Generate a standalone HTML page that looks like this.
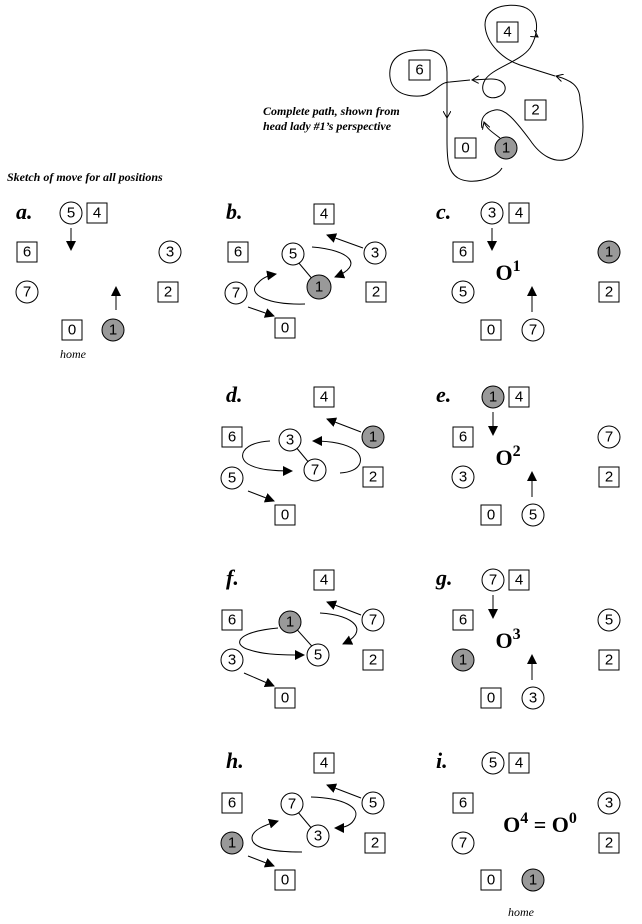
<!DOCTYPE html>
<html><head><meta charset="utf-8"><style>
html,body{margin:0;padding:0;background:#fff}
svg{display:block}
.b{fill:#fff;stroke:#000;stroke-width:1}
.c{fill:#fff;stroke:#000;stroke-width:1}
.g{fill:#999;stroke:#000;stroke-width:1}
.t{font-family:"Liberation Sans",sans-serif;font-size:15px;text-anchor:middle;dominant-baseline:central}
.L{font-family:"Liberation Serif",serif;font-style:italic;font-weight:bold;font-size:22px}
.O{font-family:"Liberation Serif",serif;font-weight:bold;font-size:22px;text-anchor:middle}
.cap{font-family:"Liberation Serif",serif;font-style:italic;font-weight:bold;font-size:12px}
.ln{fill:none;stroke:#000;stroke-width:1}
</style></head><body>
<svg width="642" height="924" viewBox="0 0 642 924" xmlns="http://www.w3.org/2000/svg">
<defs>
<marker id="ar" markerWidth="10" markerHeight="10" refX="9" refY="5" orient="auto" markerUnits="userSpaceOnUse">
<path d="M0,0 L10,5 L0,10 z" fill="#000"/></marker>
<marker id="op" markerWidth="8" markerHeight="8" refX="7" refY="4" orient="auto" markerUnits="userSpaceOnUse">
<path d="M0,0 L7,4 L0,8" fill="none" stroke="#000"/></marker>
</defs>

<!-- top complete path -->
<g>
<rect class="b" x="497" y="22" width="21" height="20"/><text class="t" x="507.5" y="32">4</text>
<rect class="b" x="409" y="60" width="21" height="20"/><text class="t" x="419.5" y="70">6</text>
<rect class="b" x="525" y="100" width="21" height="20"/><text class="t" x="535.5" y="110">2</text>
<rect class="b" x="455" y="138" width="21" height="20"/><text class="t" x="465.5" y="148">0</text>
<circle class="g" cx="506" cy="148" r="11"/><text class="t" x="506" y="148">1</text>
<path class="ln" d="M502,168 C495,180 470,185 458,178 C448,172 447,160 447,140 L447,118" />
<path class="ln" d="M447,100 L447,118" marker-end="url(#op)"/>
<path class="ln" d="M447,100 L447,72 C447,60 440,50 425,50 C405,50 392,55 390,70 C388,88 400,97 420,96 C435,95 438,82 450,82 L470,80"/>
<path class="ln" d="M490,79 L472,80" marker-end="url(#op)"/>
<path class="ln" d="M490,79 C505,78 510,90 500,96 C488,102 478,92 485,80 C492,68 520,62 530,48 C540,32 540,10 520,6 C500,3 485,10 485,25 C486,45 505,60 520,65 L555,76"/>
<path class="ln" d="M535,35 L538,37" marker-end="url(#op)"/>
<path class="ln" d="M580,100 C580,85 570,80 556,76" marker-end="url(#op)"/>
<path class="ln" d="M580,100 C585,125 585,150 570,158 C555,165 540,155 530,140 C515,120 505,108 495,110 C485,112 480,118 482,128"/>
<path class="ln" d="M500,138 C492,132 486,128 484,122" marker-end="url(#op)"/>
<text class="cap" x="263" y="115">Complete path, shown from</text>
<text class="cap" x="263" y="130">head lady #1’s perspective</text>
<text class="cap" x="7" y="181">Sketch of move for all positions</text>
</g>

<!-- a -->
<text class="L" x="16" y="219">a.</text>
<circle class="c" cx="71" cy="213" r="11"/><text class="t" x="71" y="213">5</text>
<rect class="b" x="87" y="203" width="20" height="20"/><text class="t" x="97" y="213">4</text>
<rect class="b" x="17" y="242" width="20" height="20"/><text class="t" x="27" y="252">6</text>
<circle class="c" cx="170" cy="252" r="11"/><text class="t" x="170" y="252">3</text>
<circle class="c" cx="27" cy="292" r="11"/><text class="t" x="27" y="292">7</text>
<rect class="b" x="158" y="282" width="20" height="20"/><text class="t" x="168" y="292">2</text>
<rect class="b" x="62" y="320" width="20" height="20"/><text class="t" x="72" y="330">0</text>
<circle class="g" cx="113" cy="330" r="11"/><text class="t" x="113" y="330">1</text>
<line class="ln" x1="71" y1="228" x2="71" y2="250" marker-end="url(#ar)"/>
<line class="ln" x1="116" y1="310" x2="116" y2="287" marker-end="url(#ar)"/>
<text class="cap" x="60" y="358" style="font-weight:normal">home</text>

<!-- b -->
<text class="L" x="226" y="219">b.</text>
<rect class="b" x="314" y="204" width="20" height="20"/><text class="t" x="324" y="214">4</text>
<rect class="b" x="228" y="242" width="20" height="20"/><text class="t" x="238" y="252">6</text>
<line class="ln" x1="293" y1="256" x2="319" y2="287"/>
<circle class="c" cx="293" cy="254" r="11"/><text class="t" x="293" y="254">5</text>
<circle class="g" cx="319" cy="287" r="12"/><text class="t" x="319" y="287">1</text>
<circle class="c" cx="375" cy="253" r="11"/><text class="t" x="375" y="253">3</text>
<circle class="c" cx="236" cy="293" r="11"/><text class="t" x="236" y="293">7</text>
<rect class="b" x="366" y="282" width="20" height="20"/><text class="t" x="376" y="292">2</text>
<rect class="b" x="275" y="318" width="20" height="20"/><text class="t" x="285" y="328">0</text>
<line class="ln" x1="363" y1="248" x2="327" y2="235" marker-end="url(#ar)"/>
<path class="ln" d="M312,247 C350,250 365,265 335,277" marker-end="url(#ar)"/>
<path class="ln" d="M305,304 C270,305 245,295 258,283 C263,277 270,275 276,274" marker-end="url(#ar)"/>
<line class="ln" x1="248" y1="307" x2="274" y2="316" marker-end="url(#ar)"/>

<!-- c -->
<text class="L" x="436" y="219">c.</text>
<circle class="c" cx="492" cy="213" r="11"/><text class="t" x="492" y="213">3</text>
<rect class="b" x="509" y="203" width="20" height="20"/><text class="t" x="519" y="213">4</text>
<rect class="b" x="453" y="242" width="20" height="20"/><text class="t" x="463" y="252">6</text>
<circle class="g" cx="609" cy="252" r="11"/><text class="t" x="609" y="252">1</text>
<circle class="c" cx="463" cy="292" r="11"/><text class="t" x="463" y="292">5</text>
<rect class="b" x="599" y="282" width="20" height="20"/><text class="t" x="609" y="292">2</text>
<rect class="b" x="481" y="320" width="20" height="20"/><text class="t" x="491" y="330">0</text>
<circle class="c" cx="533" cy="330" r="11"/><text class="t" x="533" y="330">7</text>
<line class="ln" x1="492" y1="228" x2="492" y2="250" marker-end="url(#ar)"/>
<line class="ln" x1="532" y1="312" x2="532" y2="287" marker-end="url(#ar)"/>
<text class="O" x="508" y="280">O<tspan dy="-9" font-size="16">1</tspan></text>

<!-- d -->
<text class="L" x="226" y="402">d.</text>
<rect class="b" x="314" y="387" width="20" height="20"/><text class="t" x="324" y="397">4</text>
<rect class="b" x="222" y="427" width="20" height="20"/><text class="t" x="232" y="437">6</text>
<line class="ln" x1="290" y1="440" x2="315" y2="470"/>
<path class="ln" d="M270,441 C240,443 238,458 248,464 C258,470 275,471 292,471" marker-end="url(#ar)"/>
<path class="ln" d="M340,473 C362,472 365,458 355,450 C345,443 330,441 313,441" marker-end="url(#ar)"/>
<circle class="c" cx="290" cy="440" r="11"/><text class="t" x="290" y="440">3</text>
<circle class="g" cx="373" cy="437" r="11"/><text class="t" x="373" y="437">1</text>
<circle class="c" cx="232" cy="478" r="11"/><text class="t" x="232" y="478">5</text>
<circle class="c" cx="315" cy="470" r="11"/><text class="t" x="315" y="470">7</text>
<rect class="b" x="363" y="467" width="20" height="20"/><text class="t" x="373" y="477">2</text>
<rect class="b" x="275" y="505" width="20" height="20"/><text class="t" x="285" y="515">0</text>
<line class="ln" x1="361" y1="432" x2="327" y2="419" marker-end="url(#ar)"/>
<line class="ln" x1="248" y1="491" x2="274" y2="501" marker-end="url(#ar)"/>

<!-- e -->
<text class="L" x="436" y="402">e.</text>
<circle class="g" cx="493" cy="397" r="11"/><text class="t" x="493" y="397">1</text>
<rect class="b" x="509" y="387" width="20" height="20"/><text class="t" x="519" y="397">4</text>
<rect class="b" x="453" y="427" width="20" height="20"/><text class="t" x="463" y="437">6</text>
<circle class="c" cx="609" cy="437" r="11"/><text class="t" x="609" y="437">7</text>
<circle class="c" cx="463" cy="477" r="11"/><text class="t" x="463" y="477">3</text>
<rect class="b" x="599" y="467" width="20" height="20"/><text class="t" x="609" y="477">2</text>
<rect class="b" x="481" y="505" width="20" height="20"/><text class="t" x="491" y="515">0</text>
<circle class="c" cx="533" cy="515" r="11"/><text class="t" x="533" y="515">5</text>
<line class="ln" x1="493" y1="412" x2="493" y2="435" marker-end="url(#ar)"/>
<line class="ln" x1="532" y1="497" x2="532" y2="472" marker-end="url(#ar)"/>
<text class="O" x="508" y="465">O<tspan dy="-9" font-size="16">2</tspan></text>

<!-- f -->
<text class="L" x="226" y="585">f.</text>
<rect class="b" x="314" y="570" width="20" height="20"/><text class="t" x="324" y="580">4</text>
<rect class="b" x="222" y="610" width="20" height="20"/><text class="t" x="232" y="620">6</text>
<line class="ln" x1="292" y1="624" x2="318" y2="653"/>
<circle class="g" cx="290" cy="622" r="11"/><text class="t" x="290" y="622">1</text>
<circle class="c" cx="373" cy="620" r="11"/><text class="t" x="373" y="620">7</text>
<circle class="c" cx="232" cy="660" r="11"/><text class="t" x="232" y="660">3</text>
<circle class="c" cx="318" cy="655" r="11"/><text class="t" x="318" y="655">5</text>
<rect class="b" x="363" y="650" width="20" height="20"/><text class="t" x="373" y="660">2</text>
<rect class="b" x="275" y="688" width="20" height="20"/><text class="t" x="285" y="698">0</text>
<line class="ln" x1="361" y1="615" x2="327" y2="602" marker-end="url(#ar)"/>
<path class="ln" d="M320,613 C355,615 370,631 343,644" marker-end="url(#ar)"/>
<path class="ln" d="M278,628 C235,632 232,645 250,650 C265,655 285,655 304,655" marker-end="url(#ar)"/>
<line class="ln" x1="244" y1="673" x2="274" y2="686" marker-end="url(#ar)"/>

<!-- g -->
<text class="L" x="436" y="585">g.</text>
<circle class="c" cx="493" cy="580" r="11"/><text class="t" x="493" y="580">7</text>
<rect class="b" x="509" y="570" width="20" height="20"/><text class="t" x="519" y="580">4</text>
<rect class="b" x="453" y="610" width="20" height="20"/><text class="t" x="463" y="620">6</text>
<circle class="c" cx="609" cy="620" r="11"/><text class="t" x="609" y="620">5</text>
<circle class="g" cx="463" cy="660" r="11"/><text class="t" x="463" y="660">1</text>
<rect class="b" x="599" y="650" width="20" height="20"/><text class="t" x="609" y="660">2</text>
<rect class="b" x="481" y="688" width="20" height="20"/><text class="t" x="491" y="698">0</text>
<circle class="c" cx="533" cy="698" r="11"/><text class="t" x="533" y="698">3</text>
<line class="ln" x1="493" y1="595" x2="493" y2="618" marker-end="url(#ar)"/>
<line class="ln" x1="532" y1="680" x2="532" y2="655" marker-end="url(#ar)"/>
<text class="O" x="508" y="648">O<tspan dy="-9" font-size="16">3</tspan></text>

<!-- h -->
<text class="L" x="226" y="768">h.</text>
<rect class="b" x="314" y="753" width="20" height="20"/><text class="t" x="324" y="763">4</text>
<rect class="b" x="222" y="793" width="20" height="20"/><text class="t" x="232" y="803">6</text>
<line class="ln" x1="292" y1="805" x2="318" y2="836"/>
<path class="ln" d="M311,797 C345,798 360,808 355,818 C352,825 345,828 335,828" marker-end="url(#ar)"/>
<path class="ln" d="M302,852 C270,852 252,848 252,838 C252,830 265,825 278,821" marker-end="url(#ar)"/>
<circle class="c" cx="292" cy="804" r="11"/><text class="t" x="292" y="804">7</text>
<circle class="c" cx="373" cy="803" r="11"/><text class="t" x="373" y="803">5</text>
<circle class="g" cx="232" cy="843" r="11"/><text class="t" x="232" y="843">1</text>
<circle class="c" cx="318" cy="836" r="11"/><text class="t" x="318" y="836">3</text>
<rect class="b" x="365" y="833" width="20" height="20"/><text class="t" x="375" y="843">2</text>
<rect class="b" x="275" y="870" width="20" height="20"/><text class="t" x="285" y="880">0</text>
<line class="ln" x1="361" y1="798" x2="327" y2="785" marker-end="url(#ar)"/>
<line class="ln" x1="248" y1="856" x2="274" y2="866" marker-end="url(#ar)"/>

<!-- i -->
<text class="L" x="436" y="768">i.</text>
<circle class="c" cx="493" cy="763" r="11"/><text class="t" x="493" y="763">5</text>
<rect class="b" x="509" y="753" width="20" height="20"/><text class="t" x="519" y="763">4</text>
<rect class="b" x="453" y="793" width="20" height="20"/><text class="t" x="463" y="803">6</text>
<circle class="c" cx="609" cy="803" r="11"/><text class="t" x="609" y="803">3</text>
<circle class="c" cx="463" cy="843" r="11"/><text class="t" x="463" y="843">7</text>
<rect class="b" x="599" y="833" width="20" height="20"/><text class="t" x="609" y="843">2</text>
<rect class="b" x="481" y="870" width="20" height="20"/><text class="t" x="491" y="880">0</text>
<circle class="g" cx="533" cy="880" r="11"/><text class="t" x="533" y="880">1</text>
<text class="O" x="540" y="832">O<tspan dy="-9" font-size="16">4</tspan><tspan dy="9"> = O</tspan><tspan dy="-9" font-size="16">0</tspan></text>
<text class="cap" x="508" y="916" style="font-weight:normal">home</text>
</svg>
</body></html>
